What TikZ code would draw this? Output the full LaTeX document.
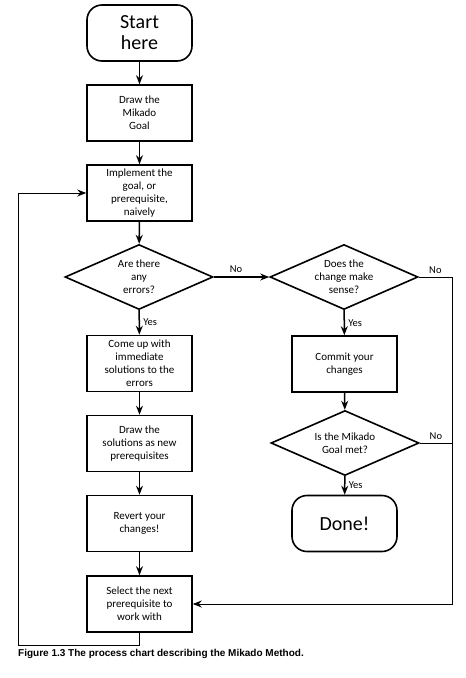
\documentclass[tikz,border=0pt]{standalone}
\usepackage{fontspec}
\setmainfont{Carlito}
\newfontfamily\capfont{Liberation Sans}
\usetikzlibrary{arrows.meta, shapes.geometric, positioning, calc}

\begin{document}
\begin{tikzpicture}[x=1pt, y=-1pt,
    font=\fontsize{11}{13}\selectfont,
    box/.style={rectangle, draw, line width=1.6pt, minimum width=105pt,
                minimum height=56pt, align=center, inner sep=2pt},
    term/.style={box, rounded corners=15pt, font=\fontsize{20}{21}\selectfont},
    query/.style={diamond, draw, line width=1.6pt, aspect=2.28,
                  minimum width=148pt, minimum height=65pt, align=center,
                  inner sep=0pt},
    flow/.style={-{Stealth[length=9pt, width=7pt, inset=3pt]}, line width=1.5pt},
    back/.style={-{Stealth[length=9pt, width=7pt, inset=3pt]}, line width=1pt},
    tag/.style={font=\fontsize{10.5}{12}\selectfont}]
  \useasboundingbox (0,0) rectangle (466,678);
  % left column
  \node[term] (start) at (139.5,33) {Start\\here};
  \node[box] (goal) at (139.5,113) {Draw the\\Mikado\\Goal};
  \node[box] (impl) at (139.5,193) {Implement the\\goal, or\\prerequisite,\\naively};
  \node[query] (err) at (139,277) {Are there\\any\\errors?};
  \node[box] (sol) at (139.5,363.5) {Come up with\\immediate\\solutions to the\\errors};
  \node[box] (newpre) at (139.5,443.5) {Draw the\\solutions as new\\prerequisites};
  \node[box] (revert) at (139.5,523.5) {Revert your\\changes!};
  \node[box] (select) at (139.5,604) {Select the next\\prerequisite to\\work with};
  % right column
  \node[query] (sense) at (344,277) {Does the\\change make\\sense?};
  \node[box] (commit) at (344.5,364) {Commit your\\changes};
  \node[query] (met) at (345,443) {Is the Mikado\\Goal met?};
  \node[term] (done) at (344.5,523.5) {Done!};
  \coordinate (rt) at (452,277);
  \coordinate (rb) at (452,604);
  \coordinate (lb) at (18,645);
  \foreach \a/\b in {start/goal, goal/impl, impl/err, sol/newpre,
                     newpre/revert, revert/select, commit/met}
    \draw[flow] (\a) -- (\b);
  \draw[flow] (err) -- node[tag, right] {Yes} (sol);
  \draw[flow] (err) -- node[tag, above, pos=0.4] {No} (sense);
  \draw[flow] (sense) -- node[tag, right] {Yes} (commit);
  \draw[flow] (met) -- node[tag, right] {Yes} (done);
  % way back
  \draw[back] (sense.east) -- node[tag, above] {No} (rt) -- (rb) -- (select.east);
  \draw[line width=1pt] (met.east) -- node[tag, above] {No} (met.east -| rt);
  \draw[back] (select.south) |- (lb) |- (impl.west);
  \node[anchor=west, inner sep=0pt, font=\capfont\bfseries\fontsize{10}{11}\selectfont]
    (cap) at (18,654) {Figure 1.3 The process chart describing the Mikado Method.};
\end{tikzpicture}
\end{document}
